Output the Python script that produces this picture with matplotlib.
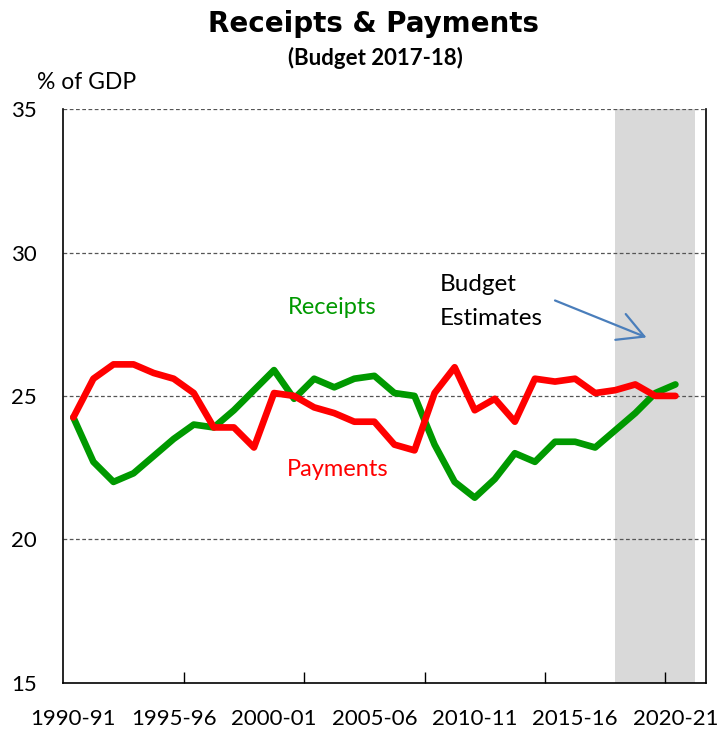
import matplotlib
matplotlib.use("Agg")
import matplotlib.pyplot as plt
import numpy as np

plt.rcParams['font.family'] = ['Lato', 'DejaVu Sans']

# financial years on the category axis (last one is empty, only shaded)
years = [f"{y}-{str(y + 1)[-2:]}" for y in range(1990, 2022)]

receipts = [24.25, 22.7, 22.0, 22.3, 22.9, 23.5, 24.0, 23.9, 24.5, 25.2,
            25.9, 24.9, 25.6, 25.3, 25.6, 25.7, 25.1, 25.0, 23.3, 22.0,
            21.45, 22.1, 23.0, 22.7, 23.4, 23.4, 23.2, 23.8, 24.4, 25.1, 25.4]
payments = [24.25, 25.6, 26.1, 26.1, 25.8, 25.6, 25.1, 23.9, 23.9, 23.2,
            25.1, 25.0, 24.6, 24.4, 24.1, 24.1, 23.3, 23.1, 25.1, 26.0,
            24.5, 24.9, 24.1, 25.6, 25.5, 25.6, 25.1, 25.2, 25.4, 25.0, 25.0]

estimate_start = "2017-18"
estimate_end = "2021-22"

fig = plt.figure(figsize=(7.2, 7.31), dpi=100)
ax = fig.add_axes([0.0879, 0.0663, 0.892, 0.7842])

x = np.arange(len(receipts))
i0 = years.index(estimate_start)
i1 = years.index(estimate_end)
ax.axvspan(i0, i1, color="#d9d9d9", lw=0, zorder=0)

for v in [20, 25, 30, 35]:
    ax.axhline(v, color="#555555", lw=0.9, ls=(0, (3, 2)), zorder=1)

ax.plot(x, receipts, color="#009900", lw=4.8, solid_capstyle="round",
        solid_joinstyle="round", zorder=3)
ax.plot(x, payments, color="#ff0000", lw=4.8, solid_capstyle="round",
        solid_joinstyle="round", zorder=4)

ax.set_xlim(-0.5, len(years) - 0.5)
ax.set_ylim(15, 35)
ax.set_yticks([15, 20, 25, 30, 35])
ax.tick_params(axis="y", length=0, pad=19, labelsize=16)

# tick marks every 6 categories, labels every 5
ax.set_xticks(np.arange(5.5, len(years), 6))
ax.set_xticklabels([])
ax.set_xticks(np.arange(0, len(years), 5), minor=True)
ax.set_xticklabels([years[i] for i in range(0, len(years), 5)], minor=True)
ax.tick_params(axis="x", which="major", direction="in", length=8, width=1)
ax.tick_params(axis="x", which="minor", length=0, pad=19, labelsize=16)

ax.spines["top"].set_visible(False)
for s in ["left", "bottom", "right"]:
    ax.spines[s].set_linewidth(1.2)

ax.text(10.7, 27.86, "Receipts", color="#009900", fontsize=17, ha="left", va="baseline")
ax.text(10.63, 22.22, "Payments", color="#ff0000", fontsize=17, ha="left", va="baseline")
ax.text(18.27, 28.67, "Budget", color="black", fontsize=17.5, ha="left", va="baseline")
ax.text(18.27, 27.48, "Estimates", color="black", fontsize=17.5, ha="left", va="baseline")
ax.annotate("", xy=(28.56, 27.04), xytext=(24.0, 28.33),
            arrowprops=dict(arrowstyle="->,head_length=1.85,head_width=1.0",
                            color="#4a7ebb", lw=1.6, shrinkA=0, shrinkB=0))

fig.text(0.519, 0.9566, "Receipts & Payments", fontsize=20, fontweight="bold",
         family="DejaVu Sans", ha="center", va="baseline")
fig.text(0.521, 0.911, "(Budget 2017-18)", fontsize=16, fontweight="bold",
         ha="center", va="baseline")
fig.text(0.051, 0.878, "% of GDP", fontsize=16.5, ha="left", va="baseline")

fig.savefig("out.png", dpi=100)
